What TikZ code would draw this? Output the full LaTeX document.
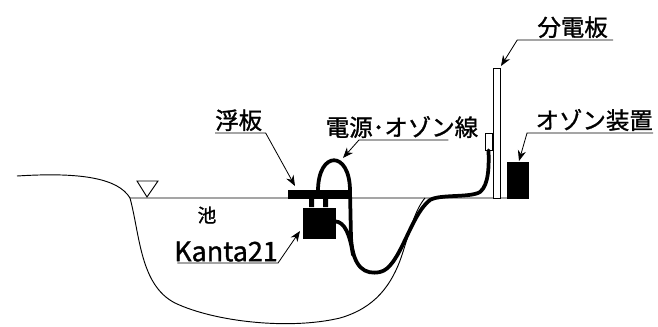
\documentclass[tikz,border=0pt]{standalone}
\usepackage{fontspec}
\setmainfont[FakeBold=1.2]{Noto Sans CJK JP}
\usetikzlibrary{arrows.meta,positioning}

\tikzset{
  lbl/.style={font=\fontsize{20}{20}\selectfont, inner xsep=0pt, inner ysep=1.5pt},
  leader/.style={line width=0.7pt, -{Stealth[length=9pt,width=7pt]}},
  cable/.style={line width=3.2pt, line cap=round, line join=round},
  blk/.style={fill=black, draw=black, inner sep=0pt},
  ground/.style={line width=0.8pt},
}

\begin{document}
\begin{tikzpicture}[x=0.03cm, y=-0.03cm]
\useasboundingbox (0,0) rectangle (658,326);
% ground, water surface and pond bed
\draw[ground] (17,176) .. controls (80,172) and (118,178) .. (130,198) -- (528,198);
\draw[ground] (130,198) .. controls (140,235) and (140,285) .. (175,303)
  .. controls (215,322) and (290,330) .. (340,318)
  .. controls (375,308) and (392,285) .. (402,255)
  .. controls (410,230) and (415,210) .. (425,198);
\draw[ground] (137,181) -- (158,181) -- (147,197) -- cycle;

\node[blk, minimum width=1.86cm, minimum height=0.24cm] (float) at (319,194) {};
\node[blk, minimum width=0.96cm, minimum height=0.9cm] (pump) at (319,223) {};
\fill (309,198) rectangle (314,207) (323,198) rectangle (328,207);
\node[draw, fill=white, line width=0.8pt, minimum width=0.21cm, minimum height=3.9cm, inner sep=0pt] (panel) at (496.5,133) {};
\node[draw, fill=white, line width=0.6pt, minimum width=0.21cm, minimum height=0.51cm, inner sep=0pt] (box) at (488.5,141.5) {};
\node[blk, minimum width=0.63cm, minimum height=1.08cm] (ozone) at (517.5,180) {};

% power / ozone line
\draw[cable] (318,191) .. controls (318,150) and (350,150) .. (350,191) -- (351,238)
  .. controls (353,268) and (365,275) .. (380,272)
  .. controls (400,268) and (410,215) .. (430,200)
  .. controls (440,194) and (470,198) .. (480,192)
  .. controls (489,185) and (489,165) .. (box.south);
\draw[cable] ([yshift=0.05cm]pump.east) .. controls (345,222) and (350,235) .. (353,255);

\node[font=\fontsize{16}{16}\selectfont] (pond) at (207,215) {池};

\node[lbl, anchor=south west] (lfloat) at (215,133) {浮板};
\node[lbl, anchor=south] (lcable) at (402,140) {電源･オゾン線};
\node[lbl, anchor=south east] (lpanel) at (608,40) {分電板};
\node[lbl, anchor=south east] (lozone) at (653,133) {オゾン装置};
\node[font=\fontsize{23}{23}\selectfont, inner xsep=0pt, inner ysep=1pt, anchor=south] (lpump) at (226,263) {Kanta21};

\coordinate (tfloat) at (295,186);
\coordinate (tcable) at (343,158);
\coordinate (tpump) at (300,231);
\coordinate (tpanel) at (501,66);
\coordinate (tozone) at (519,161);

\draw[leader] (lfloat.south west) -- ([xshift=0.1cm]lfloat.south east) -- (tfloat);
\draw[leader] ([xshift=-0.9cm]lcable.south east) -- ([xshift=1.0cm]lcable.south west) -- (tcable);
\draw[leader] ([xshift=0.15cm]lpanel.south east) -- ([xshift=-0.6cm]lpanel.south west) -- (tpanel);
\draw[leader] (lozone.south east) -- ([xshift=-0.25cm]lozone.south west) -- (tozone);
\draw[leader] ([xshift=0.1cm]lpump.south west) -- (lpump.south east) -- (tpump);
\end{tikzpicture}
\end{document}
